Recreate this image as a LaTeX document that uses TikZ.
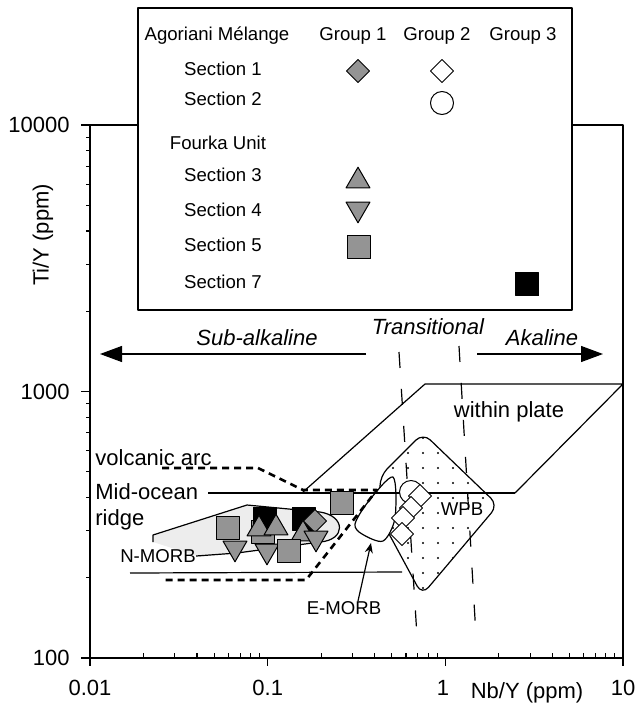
\documentclass[tikz,border=0pt]{standalone}
\usepackage{fontspec}
\setmainfont{Liberation Sans}
\usetikzlibrary{arrows.meta,shapes.geometric}

\begin{document}
\begin{tikzpicture}[x=0.5pt,y=-0.5pt,line join=round,
    biglabel/.style={font=\fontsize{11}{13}\selectfont,inner sep=0pt},
    itlabel/.style={biglabel,font=\fontsize{11}{13}\selectfont\itshape},
    smalllabel/.style={font=\fontsize{9.3}{11}\selectfont,inner sep=0pt},
    markbase/.style={draw=black,line width=0.5pt,inner sep=0pt,outer sep=0pt},
    graysq/.style={markbase,rectangle,fill=black!42,minimum size=11.5pt},
    blacksq/.style={markbase,rectangle,fill=black,minimum size=11.5pt},
    uptri/.style={markbase,regular polygon,regular polygon sides=3,fill=black!42,minimum size=13.8pt},
    downtri/.style={uptri,shape border rotate=180},
    graydia/.style={markbase,diamond,fill=black!42,minimum size=11.5pt},
    opendia/.style={markbase,diamond,fill=white,minimum size=11.5pt},
    opencirc/.style={markbase,circle,fill=white,minimum size=11.5pt},
    fieldline/.style={line width=0.6pt},
    transline/.style={line width=0.6pt,dash pattern=on 8pt off 10.5pt},
    arcline/.style={line width=1.3pt,dash pattern=on 3.5pt off 2.5pt}]
\useasboundingbox (0,0) rectangle (635,713);

%Plot frame
\draw[line width=0.9pt] (90,125) rectangle (623,658);

%Major and minor ticks on both log axes
\foreach \d in {0,1,2,3}
    {
    \draw[line width=0.8pt] ({90+177.67*\d},658) -- ({90+177.67*\d},666);
    }
\foreach \d in {0,1,2}
    \foreach \m in {2,...,9}
        {
        \draw[line width=0.6pt] ({90+177.67*(\d+ln(\m)/ln(10))},658) -- ({90+177.67*(\d+ln(\m)/ln(10))},653);
        }
\foreach \d in {0,1,2}
    {
    \draw[line width=0.8pt] (81,{658-266.5*\d}) -- (90,{658-266.5*\d});
    }
\foreach \d in {0,1}
    \foreach \m in {2,...,9}
        {
        \draw[line width=0.6pt] (86,{658-266.5*(\d+ln(\m)/ln(10))}) -- (90,{658-266.5*(\d+ln(\m)/ln(10))});
        }

%Tick labels and axis titles
\foreach \v/\yy in {100/658,1000/391.5,10000/125}
    \node[biglabel,anchor=east] (ytick\v) at (70,\yy) {\v};
\foreach \v/\xx [count=\i] in {0.01/90,0.1/267.7,1/443,10/623}
    \node[biglabel] (xtick\i) at (\xx,688) {\v};
\node[biglabel,rotate=90] (ytitle) at (43,235) {Ti/Y (ppm)};
\node[biglabel] (xtitle) at (527,693) {Nb/Y (ppm)};

%N-MORB field, light gray
\fill[black!7] (153,535) -- (247,505) -- (320,512) .. controls (346,516) and (346,540) .. (320,542)
    -- (237,553) -- (200,557) -- (153,542) -- cycle;

%WPB field with dot screen
\begin{scope}
    \clip[rounded corners=5pt] (380,490) -- (380,476) -- (423,433) -- (498,505) -- (422,595) -- (388,532) -- cycle;
    \foreach \gx in {393,408,...,483}
        \foreach \gy in {438,453,...,588}
            {
            \fill (\gx,\gy) circle (0.55pt);
            }
\end{scope}
\draw[fieldline,rounded corners=5pt] (380,490) -- (380,476) -- (423,433) -- (498,505) -- (422,595) -- (388,532);
\node[smalllabel,fill=white,inner sep=1pt] (wpb) at (462,509) {WPB};

%E-MORB field
\draw[fieldline,fill=white] plot[smooth cycle] coordinates {(393,477) (368,502) (355,524) (362,534) (383,541) (395,518)};

%Within plate, MORB and volcanic arc boundaries
\draw[fieldline] (303,492) -- (425,384) -- (623,384) -- (515,493);
\draw[fieldline] (208,493) -- (515,493);
\draw[fieldline] (130,573) -- (402,572);
\draw[arcline] (162,468) -- (258,468) -- (303,490) -- (377,490) -- (306,580) -- (162,580);

%N-MORB outline with its label
\node[smalllabel] (nmorb) at (158,556) {N-MORB};
\draw[fieldline] (nmorb.east) -- (237,553) -- (320,542) .. controls (346,540) and (346,516) .. (320,512)
    -- (247,505) -- (153,535) -- (153,542);

%Transitional limits
\draw[transline] (399,352) -- (417,636);
\draw[transline] (459,346) -- (476,636);

%Alkalinity arrows
\draw[line width=0.6pt,-{Triangle[length=11pt,width=8pt]}] (366,354) -- (100,354);
\draw[line width=0.6pt,-{Triangle[length=11pt,width=8pt]}] (477,354) -- (603,354);
\node[itlabel] (subalk) at (257,338) {Sub-alkaline};
\node[itlabel] (trans) at (428,327) {Transitional};
\node[itlabel] (alk) at (542,338) {Akaline};

%Field names
\node[biglabel] (wplate) at (509,412) {within plate};
\node[biglabel,anchor=west] (varc) at (95,458) {volcanic arc};
\node[biglabel,anchor=west] (midoc) at (95,492) {Mid-ocean};
\node[biglabel,anchor=west] (ridge) at (95,520) {ridge};
\node[smalllabel] (emorb) at (344,608) {E-MORB};
\coordinate (emtip) at (371,543);
\draw[line width=0.6pt,-{Stealth[length=5pt,width=4pt]}] ([xshift=7pt]emorb.north) -- (emtip);

%Samples, Group 1 and Group 3
\foreach \x/\y [count=\i] in {228/528,263/532}
    \node[graysq] (sqa\i) at (\x,\y) {};
\foreach \x/\y [count=\i] in {265/519,304/519}
    \node[blacksq] (bsq\i) at (\x,\y) {};
\foreach \x/\y [count=\i] in {259/529,276/528,303/534}
    \node[uptri] (utri\i) at (\x,\y) {};
\node[graydia] (gdia1) at (315,521) {};
\foreach \x/\y [count=\i] in {235/548,267/551,316/538}
    \node[downtri] (dtri\i) at (\x,\y) {};
\foreach \x/\y [count=\i] in {289/551,342/503}
    \node[graysq] (sqb\i) at (\x,\y) {};

%Samples, Group 2
\node[opencirc] (ocirc1) at (411,492) {};
\foreach \x/\y [count=\i] in {420/496,411/508,403/518,402/534}
    \node[opendia] (odia\i) at (\x,\y) {};

%Legend
\draw[fill=white,line width=0.8pt] (138,8) rectangle (572,310);
\node[smalllabel] (agor) at (217,36) {Agoriani Mélange};
\foreach \g/\xx in {1/353,2/437,3/523}
    \node[smalllabel] (grp\g) at (\xx,36) {Group \g};
\foreach \s/\yy in {1/69,2/99,3/175,4/210,5/245,7/282}
    \node[smalllabel] (sec\s) at (223,\yy) {Section \s};
\node[smalllabel] (fourka) at (218,143) {Fourka Unit};
\node[graydia] (lg1) at (358,71) {};
\node[opendia] (lg2) at (442,71) {};
\node[opencirc] (lg3) at (442,103) {};
\node[uptri] (lg4) at (358,181) {};
\node[downtri] (lg5) at (358,209) {};
\node[graysq] (lg6) at (359,247) {};
\node[blacksq] (lg7) at (527,284) {};
\end{tikzpicture}
\end{document}
